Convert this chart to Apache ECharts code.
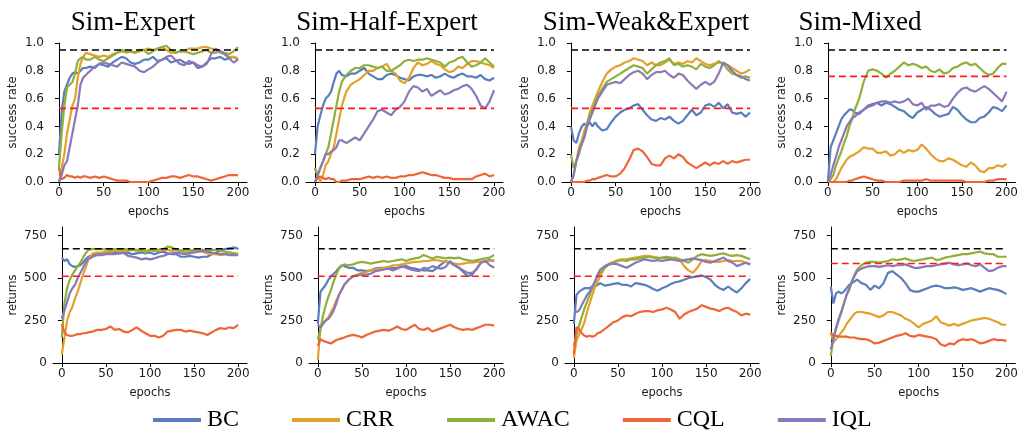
<!DOCTYPE html>
<html>
<head>
<meta charset="utf-8">
<script src="https://cdn.jsdelivr.net/npm/echarts@6.0.0/dist/echarts.min.js"></script>
<style>
  html, body { margin: 0; padding: 0; background: #fff; }
  #chart { width: 1021px; height: 433px; }
</style>
</head>
<body>
<div id="chart"></div>
<script>
// ---- data ----
const methods = ['BC', 'CRR', 'AWAC', 'CQL', 'IQL'];
const methodColors = ['#5a7dbd', '#e5a02c', '#8fb03a', '#ef6536', '#8b78b8'];
const datasetTitles = ['Sim-Expert', 'Sim-Half-Expert', 'Sim-Weak&Expert', 'Sim-Mixed'];
const epochs = [0,3,6,9,12,15,18,21,24,27,30,35,40,45,50,55,60,65,70,75,80,85,90,95,100,105,110,115,120,125,130,135,140,145,150,155,160,165,170,175,180,185,190,195,200];
const epochTicks = [0, 50, 100, 150, 200];
const successTicks = [0, 0.2, 0.4, 0.6, 0.8, 1.0];
const returnTicks = [0, 250, 500, 750];

// success rate, Sim-Expert
const expertSuccessBC   = [0.2,0.5,0.65,0.7,0.75,0.78,0.79,0.78,0.8,0.82,0.82,0.83,0.82,0.85,0.84,0.83,0.86,0.88,0.9,0.89,0.86,0.85,0.86,0.88,0.88,0.9,0.87,0.88,0.89,0.86,0.87,0.88,0.86,0.85,0.86,0.82,0.83,0.86,0.89,0.89,0.9,0.88,0.89,0.9,0.88];
const expertSuccessCRR  = [0,0.1,0.2,0.35,0.45,0.55,0.6,0.75,0.85,0.9,0.93,0.92,0.91,0.9,0.91,0.9,0.92,0.93,0.94,0.93,0.94,0.93,0.94,0.95,0.96,0.95,0.96,0.97,0.95,0.93,0.93,0.94,0.94,0.96,0.96,0.96,0.97,0.97,0.96,0.95,0.93,0.92,0.9,0.9,0.89];
const expertSuccessAWAC = [0.1,0.35,0.55,0.68,0.7,0.72,0.78,0.87,0.89,0.9,0.88,0.88,0.9,0.88,0.87,0.89,0.91,0.93,0.95,0.94,0.94,0.93,0.95,0.95,0.92,0.94,0.96,0.97,0.98,0.95,0.93,0.94,0.94,0.93,0.92,0.93,0.94,0.95,0.93,0.93,0.94,0.93,0.92,0.94,0.97];
const expertSuccessCQL  = [0.1,0.02,0.03,0.05,0.04,0.04,0.03,0.04,0.03,0.04,0.04,0.03,0.04,0.03,0.04,0.03,0.02,0.01,0.01,0.01,0,0,0,0,0,0.01,0.02,0.03,0.03,0.04,0.04,0.03,0.04,0.05,0.04,0.04,0.03,0.02,0.01,0.02,0.03,0.04,0.05,0.05,0.05];
const expertSuccessIQL  = [0,0.05,0.12,0.15,0.25,0.35,0.45,0.55,0.7,0.75,0.77,0.8,0.83,0.85,0.86,0.85,0.84,0.83,0.86,0.85,0.84,0.83,0.8,0.79,0.81,0.83,0.86,0.88,0.9,0.91,0.88,0.85,0.84,0.87,0.86,0.84,0.83,0.85,0.92,0.96,0.94,0.92,0.89,0.86,0.88];

// success rate, Sim-Half-Expert
const halfSuccessBC   = [0.2,0.4,0.48,0.55,0.6,0.62,0.65,0.72,0.78,0.8,0.77,0.76,0.78,0.78,0.8,0.82,0.78,0.76,0.74,0.74,0.77,0.78,0.77,0.75,0.74,0.73,0.76,0.77,0.77,0.76,0.77,0.75,0.76,0.78,0.76,0.75,0.77,0.78,0.76,0.76,0.75,0.77,0.74,0.73,0.75];
const halfSuccessCRR  = [0.1,0.05,0,0.05,0.12,0.15,0.2,0.25,0.35,0.45,0.55,0.65,0.7,0.72,0.74,0.77,0.8,0.8,0.82,0.83,0.85,0.8,0.78,0.73,0.71,0.75,0.82,0.86,0.84,0.85,0.87,0.85,0.84,0.81,0.79,0.8,0.83,0.82,0.85,0.87,0.87,0.86,0.85,0.84,0.82];
const halfSuccessAWAC = [0.1,0.05,0.1,0.15,0.2,0.25,0.35,0.45,0.55,0.65,0.72,0.77,0.8,0.82,0.82,0.84,0.84,0.83,0.82,0.83,0.8,0.8,0.82,0.84,0.87,0.88,0.87,0.88,0.88,0.89,0.88,0.87,0.86,0.83,0.86,0.87,0.89,0.9,0.86,0.83,0.84,0.86,0.89,0.86,0.83];
const halfSuccessCQL  = [0,0.03,0.04,0.03,0.02,0.03,0.02,0.02,0,0,0.01,0.01,0.02,0.02,0.02,0.03,0.04,0.03,0.04,0.03,0.04,0.03,0.03,0.04,0.04,0.05,0.05,0.06,0.07,0.06,0.05,0.05,0.04,0.03,0.03,0.02,0.02,0.02,0.02,0.02,0.04,0.05,0.06,0.04,0.05];
const halfSuccessIQL  = [0,0.05,0.1,0.15,0.2,0.2,0.22,0.23,0.25,0.3,0.3,0.28,0.3,0.32,0.3,0.35,0.4,0.45,0.51,0.52,0.5,0.48,0.52,0.54,0.58,0.65,0.69,0.68,0.65,0.67,0.62,0.64,0.66,0.63,0.64,0.66,0.67,0.69,0.7,0.67,0.62,0.55,0.53,0.58,0.66];

// success rate, Sim-Weak&Expert
const weakSuccessBC   = [0.4,0.3,0.28,0.35,0.4,0.42,0.4,0.43,0.4,0.43,0.4,0.37,0.38,0.43,0.47,0.5,0.52,0.53,0.55,0.56,0.52,0.48,0.45,0.44,0.46,0.45,0.47,0.44,0.42,0.44,0.48,0.52,0.48,0.5,0.55,0.56,0.54,0.57,0.53,0.56,0.5,0.49,0.5,0.47,0.5];
const weakSuccessCRR  = [0,0.05,0.15,0.25,0.3,0.37,0.42,0.5,0.55,0.6,0.65,0.72,0.78,0.81,0.83,0.84,0.86,0.87,0.89,0.88,0.87,0.84,0.86,0.84,0.84,0.86,0.88,0.85,0.86,0.85,0.87,0.86,0.89,0.87,0.85,0.84,0.85,0.86,0.85,0.84,0.82,0.8,0.78,0.79,0.81];
const weakSuccessAWAC = [0.2,0.1,0.15,0.2,0.28,0.33,0.42,0.48,0.52,0.57,0.62,0.67,0.72,0.74,0.76,0.78,0.8,0.82,0.84,0.83,0.82,0.78,0.81,0.84,0.86,0.87,0.89,0.84,0.85,0.83,0.84,0.83,0.81,0.85,0.83,0.82,0.84,0.87,0.85,0.81,0.78,0.77,0.75,0.76,0.75];
const weakSuccessCQL  = [0,0,0,0,0,0,0.01,0.01,0.02,0.02,0.03,0.04,0.05,0.04,0.04,0.06,0.1,0.16,0.23,0.24,0.22,0.18,0.13,0.12,0.12,0.17,0.19,0.17,0.2,0.18,0.14,0.12,0.1,0.12,0.14,0.12,0.14,0.13,0.15,0.13,0.15,0.14,0.15,0.16,0.16];
const weakSuccessIQL  = [0,0.05,0.15,0.22,0.27,0.32,0.4,0.45,0.5,0.55,0.6,0.65,0.7,0.71,0.72,0.71,0.74,0.77,0.79,0.8,0.78,0.74,0.77,0.79,0.79,0.8,0.77,0.75,0.78,0.77,0.73,0.7,0.67,0.7,0.72,0.7,0.72,0.78,0.86,0.84,0.8,0.77,0.76,0.74,0.73];

// success rate, Sim-Mixed
const mixedSuccessBC   = [0,0.25,0.3,0.35,0.4,0.45,0.48,0.5,0.52,0.52,0.5,0.49,0.52,0.55,0.56,0.57,0.55,0.57,0.56,0.54,0.52,0.51,0.48,0.46,0.5,0.52,0.54,0.52,0.49,0.47,0.48,0.49,0.54,0.52,0.48,0.45,0.43,0.43,0.46,0.47,0.5,0.54,0.53,0.51,0.55];
const mixedSuccessCRR  = [0,0,0,0.02,0.06,0.1,0.13,0.16,0.18,0.19,0.2,0.22,0.25,0.24,0.24,0.21,0.21,0.22,0.19,0.2,0.23,0.21,0.23,0.22,0.23,0.27,0.24,0.2,0.17,0.15,0.15,0.17,0.16,0.14,0.12,0.11,0.14,0.12,0.08,0.07,0.1,0.1,0.12,0.11,0.13];
const mixedSuccessAWAC = [0,0.02,0.05,0.12,0.17,0.22,0.28,0.33,0.4,0.45,0.52,0.6,0.72,0.8,0.81,0.8,0.78,0.75,0.78,0.8,0.83,0.86,0.84,0.85,0.84,0.82,0.83,0.8,0.79,0.81,0.78,0.79,0.82,0.83,0.85,0.86,0.84,0.85,0.82,0.79,0.77,0.78,0.82,0.85,0.85];
const mixedSuccessCQL  = [0,0,0,0,0,0,0,0,0.01,0.01,0.02,0.03,0.04,0.03,0.02,0.01,0.01,0,0,0,0,0.01,0.01,0.01,0.01,0.01,0.02,0.01,0.01,0.01,0.01,0.01,0.01,0.01,0.01,0,0,0,0,0,0.01,0.01,0.02,0.02,0.02];
const mixedSuccessIQL  = [0,0.05,0.12,0.18,0.25,0.3,0.35,0.4,0.43,0.46,0.47,0.5,0.52,0.54,0.55,0.57,0.58,0.58,0.57,0.58,0.57,0.58,0.6,0.56,0.55,0.57,0.52,0.55,0.55,0.56,0.54,0.55,0.6,0.64,0.67,0.68,0.66,0.65,0.67,0.69,0.67,0.64,0.61,0.58,0.65];

// returns, Sim-Expert
const expertReturnBC   = [620,600,610,580,570,565,570,575,590,610,625,635,640,645,645,650,648,645,650,648,640,645,650,645,650,640,650,655,645,640,640,625,625,630,625,620,625,625,640,650,660,670,675,680,672];
const expertReturnCRR  = [50,150,250,300,330,380,420,470,520,560,610,645,650,650,655,655,660,660,660,660,665,660,665,660,665,660,660,665,665,660,665,660,650,655,660,660,655,645,640,640,635,640,650,645,640];
const expertReturnAWAC = [150,350,440,490,520,545,570,590,620,645,665,670,670,670,668,665,670,670,670,668,665,665,660,650,665,660,668,670,685,680,665,660,665,662,665,668,665,660,665,665,660,655,650,645,640];
const expertReturnCQL  = [230,180,165,160,160,165,170,170,175,175,180,185,195,195,200,215,195,200,185,180,195,210,190,175,160,160,150,160,185,190,195,195,185,190,185,180,175,165,180,195,205,200,210,205,225];
const expertReturnIQL  = [260,310,360,410,440,460,500,530,560,590,610,625,635,635,640,640,640,645,648,630,625,620,610,615,610,615,625,630,640,645,650,645,640,645,650,655,660,655,650,645,640,640,635,635,635];

// returns, Sim-Half-Expert
const halfReturnBC   = [230,420,440,460,490,510,525,540,560,575,570,560,560,545,545,540,545,555,560,560,555,560,560,565,570,560,555,550,545,545,540,560,580,600,590,575,560,535,510,520,555,590,600,605,600];
const halfReturnCRR  = [20,200,240,250,270,300,330,370,400,430,460,490,510,520,530,535,545,550,555,560,565,575,575,580,585,590,595,595,600,600,605,605,600,595,590,585,580,585,590,590,595,595,595,600,605];
const halfReturnAWAC = [140,200,280,340,390,430,480,520,555,570,580,575,580,590,595,590,585,590,595,600,595,600,605,610,600,610,615,620,635,625,615,625,620,615,620,615,620,610,605,600,605,610,615,620,635];
const halfReturnCQL  = [100,140,130,125,120,115,125,135,140,145,150,160,165,160,150,165,175,185,190,195,190,200,215,200,195,210,225,200,195,205,185,195,205,215,225,210,200,195,200,195,205,215,225,225,220];
const halfReturnIQL  = [225,210,230,250,260,280,310,350,400,430,460,490,510,515,520,520,525,540,545,550,555,545,555,570,560,550,545,540,560,555,570,560,555,565,600,575,560,545,530,530,550,590,600,575,560];

// returns, Sim-Weak&Expert
const weakReturnBC   = [230,400,420,430,440,440,440,450,450,460,470,455,460,465,470,460,460,450,470,465,460,450,435,425,440,450,465,475,480,490,500,505,510,515,505,490,460,440,430,450,430,415,440,470,495];
const weakReturnCRR  = [30,130,170,200,240,300,350,400,450,480,510,560,585,595,605,610,610,615,620,625,630,630,625,620,615,620,615,620,610,570,545,530,560,600,605,600,595,595,600,605,600,600,600,590,580];
const weakReturnAWAC = [100,170,220,270,320,360,400,440,480,510,530,560,580,590,600,605,600,610,610,615,620,625,620,615,620,625,620,615,610,600,590,610,630,640,635,630,635,640,645,635,630,635,630,620,610];
const weakReturnCQL  = [50,210,200,175,160,155,160,155,160,175,180,200,220,240,250,270,280,275,290,300,305,305,300,310,315,325,315,300,260,285,300,310,320,340,330,320,315,305,320,325,310,300,280,290,285];
const weakReturnIQL  = [300,300,310,340,370,400,420,450,480,520,550,570,580,585,580,570,560,575,590,600,610,605,600,605,600,605,610,605,600,605,610,615,610,605,595,590,600,610,620,600,590,570,580,590,580];

// returns, Sim-Mixed
const mixedReturnBC   = [450,350,410,420,410,420,440,460,470,480,490,470,460,430,455,440,470,530,540,520,500,470,430,420,420,430,440,450,455,450,440,440,445,440,430,435,440,430,420,430,440,435,430,420,405];
const mixedReturnCRR  = [180,120,140,160,180,200,230,250,270,290,300,300,295,290,280,270,280,300,300,290,280,260,250,230,210,230,240,250,275,240,230,220,230,220,230,240,250,255,260,265,260,250,240,225,225];
const mixedReturnAWAC = [40,150,200,250,300,350,400,430,480,520,550,575,590,595,595,590,595,600,610,605,610,615,605,600,605,610,615,620,605,610,620,625,630,635,640,640,645,650,655,645,640,640,625,625,625];
const mixedReturnCQL  = [180,160,160,155,155,155,155,150,150,150,145,140,140,130,115,120,130,140,150,160,165,175,160,155,165,160,155,150,140,110,100,115,110,130,140,135,140,130,115,120,130,140,135,135,130];
const mixedReturnIQL  = [80,140,210,260,300,350,400,440,480,510,540,555,565,570,570,565,570,575,570,575,575,580,570,560,560,565,570,570,575,580,585,590,580,575,580,585,575,570,580,560,540,545,560,570,570];

// reference levels (dashed lines)
const expertSuccessLevel = 0.95;
const expertReturnLevel = 672;
const baselineSuccessLevels = [0.53, 0.53, 0.53, 0.76];
const baselineReturnLevels = [510, 510, 510, 585];

// ---- assemble panels ----
const successPanels = [
  [expertSuccessBC, expertSuccessCRR, expertSuccessAWAC, expertSuccessCQL, expertSuccessIQL],
  [halfSuccessBC, halfSuccessCRR, halfSuccessAWAC, halfSuccessCQL, halfSuccessIQL],
  [weakSuccessBC, weakSuccessCRR, weakSuccessAWAC, weakSuccessCQL, weakSuccessIQL],
  [mixedSuccessBC, mixedSuccessCRR, mixedSuccessAWAC, mixedSuccessCQL, mixedSuccessIQL]
];
const returnPanels = [
  [expertReturnBC, expertReturnCRR, expertReturnAWAC, expertReturnCQL, expertReturnIQL],
  [halfReturnBC, halfReturnCRR, halfReturnAWAC, halfReturnCQL, halfReturnIQL],
  [weakReturnBC, weakReturnCRR, weakReturnAWAC, weakReturnCQL, weakReturnIQL],
  [mixedReturnBC, mixedReturnCRR, mixedReturnAWAC, mixedReturnCQL, mixedReturnIQL]
];

const sansFont = 'DejaVu Sans';
const serifFont = 'Liberation Serif';
const textColor = '#1a1a1a';

const topLefts = [50, 306, 562, 819];
const bottomLefts = [53, 309, 565, 822];
const titleCenters = [128, 382, 641, 855];

const grids = [], xAxes = [], yAxes = [], series = [], titles = [];

function axisCommon() {
  return {
    axisLine: { show: true, lineStyle: { color: '#000', width: 1 } },
    axisTick: { show: true, inside: false, length: 4, lineStyle: { color: '#000', width: 1 } },
    splitLine: { show: false },
    axisLabel: { fontFamily: sansFont, fontSize: 12, color: textColor }
  };
}

function addPanel(row, col, panelData, level, baseline) {
  const idx = grids.length;
  const isTop = row === 0;
  grids.push(isTop
    ? { left: topLefts[col], top: 43, width: 197, height: 139 }
    : { left: bottomLefts[col], top: 227, width: 194, height: 136 });

  const xa = axisCommon();
  Object.assign(xa, {
    type: 'value', gridIndex: idx, min: -10, max: 210,
    name: 'epochs', nameLocation: 'middle', nameGap: 24,
    nameTextStyle: { fontFamily: sansFont, fontSize: 11.5, color: textColor }
  });
  xa.axisTick.customValues = epochTicks;
  xa.axisLabel.customValues = epochTicks;
  xa.axisLabel.margin = 5;
  xAxes.push(xa);

  const ya = axisCommon();
  Object.assign(ya, {
    type: 'value', gridIndex: idx, min: 0, max: isTop ? 1 : 800,
    name: isTop ? 'success rate' : 'returns', nameLocation: 'middle', nameGap: isTop ? 31 : 34,
    nameTextStyle: { fontFamily: sansFont, fontSize: 11.5, color: textColor }
  });
  const yt = isTop ? successTicks : returnTicks;
  ya.axisTick.customValues = yt;
  ya.axisLabel.customValues = yt;
  ya.axisLabel.margin = 6;
  if (isTop) ya.axisLabel.formatter = v => v.toFixed(1);
  yAxes.push(ya);

  panelData.forEach((vals, m) => {
    series.push({
      name: methods[m], type: 'line', xAxisIndex: idx, yAxisIndex: idx,
      data: epochs.map((e, i) => [e, vals[i]]),
      showSymbol: false, symbol: 'none', silent: true,
      lineStyle: { color: methodColors[m], width: 2.2 },
      itemStyle: { color: methodColors[m] },
      z: 2 + m
    });
  });

  series.push({
    name: 'expert level', type: 'line', xAxisIndex: idx, yAxisIndex: idx,
    data: [[0, level], [200, level]], showSymbol: false, symbol: 'none', silent: true,
    lineStyle: { color: '#000', width: 1.6, type: [7, 4] }, z: 10
  });
  series.push({
    name: 'baseline level', type: 'line', xAxisIndex: idx, yAxisIndex: idx,
    data: [[0, baseline], [200, baseline]], showSymbol: false, symbol: 'none', silent: true,
    lineStyle: { color: '#ff1a1a', width: 1.6, type: [7, 4] }, z: 10
  });
}

for (let c = 0; c < 4; c++) {
  addPanel(0, c, successPanels[c], expertSuccessLevel, baselineSuccessLevels[c]);
}
for (let c = 0; c < 4; c++) {
  addPanel(1, c, returnPanels[c], expertReturnLevel, baselineReturnLevels[c]);
}

datasetTitles.forEach((t, c) => {
  titles.push({
    text: t, left: titleCenters[c], top: 4, textAlign: 'center',
    textStyle: { fontFamily: serifFont, fontSize: 27, fontWeight: 'normal', color: '#000' }
  });
});

const chart = echarts.init(document.getElementById('chart'), null, { renderer: 'canvas' });
chart.setOption({
  animation: false,
  backgroundColor: '#fff',
  title: titles,
  legend: {
    data: methods.map((n, i) => ({ name: n, itemStyle: { color: methodColors[i] } })),
    left: 148, top: 403, orient: 'horizontal',
    icon: 'rect', itemWidth: 48, itemHeight: 4, itemGap: 53,
    textStyle: { fontFamily: serifFont, fontSize: 24, color: '#000', padding: [0, 0, 0, 1] },
    selectedMode: false
  },
  grid: grids,
  xAxis: xAxes,
  yAxis: yAxes,
  series: series
});
</script>
</body>
</html>
